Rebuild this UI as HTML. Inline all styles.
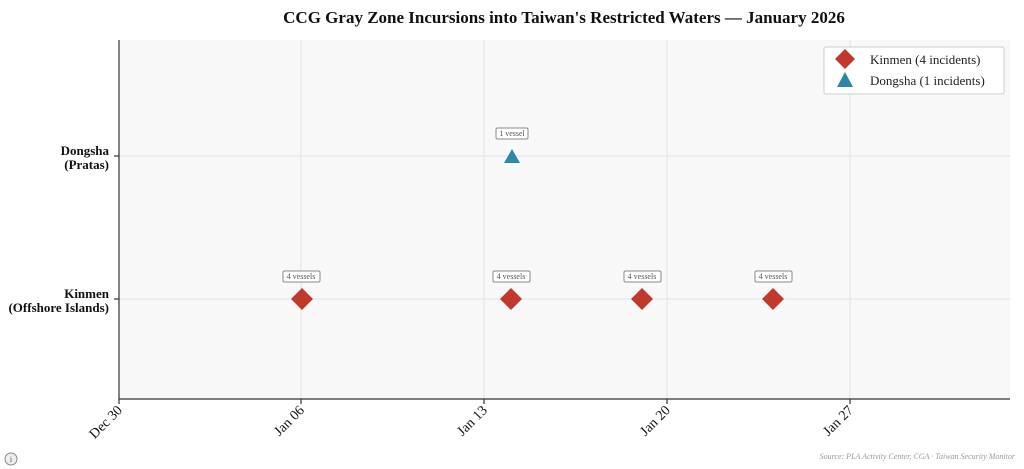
<!DOCTYPE html>
<html><head><meta charset="utf-8"><style>
body{margin:0;background:#fff;}
svg{display:block;font-family:"Liberation Serif",serif;}
</style></head><body>
<svg width="1024" height="469" viewBox="0 0 1024 469">
<rect width="1024" height="469" fill="#fff"/>
<text x="564" y="23" text-anchor="middle" font-size="17" font-weight="bold" fill="#111">CCG Gray Zone Incursions into Taiwan's Restricted Waters — January 2026</text>
<rect x="119" y="40" width="891" height="359" fill="#f8f8f8"/>
<g stroke="#e2e2e2" stroke-width="1">
<line x1="301" y1="40" x2="301" y2="399"/><line x1="484" y1="40" x2="484" y2="399"/>
<line x1="667" y1="40" x2="667" y2="399"/><line x1="850" y1="40" x2="850" y2="399"/>
<line x1="119" y1="156" x2="1010" y2="156"/><line x1="119" y1="299" x2="1010" y2="299"/>
</g>
<g stroke="#333" stroke-width="1.2">
<line x1="119" y1="40" x2="119" y2="399"/><line x1="119" y1="399" x2="1010" y2="399"/>
<line x1="114" y1="156" x2="119" y2="156"/><line x1="114" y1="299" x2="119" y2="299"/>
<line x1="119" y1="399" x2="119" y2="404"/><line x1="301" y1="399" x2="301" y2="404"/>
<line x1="484" y1="399" x2="484" y2="404"/><line x1="667" y1="399" x2="667" y2="404"/>
<line x1="850" y1="399" x2="850" y2="404"/>
</g>
<g font-size="13" font-weight="bold" text-anchor="end" fill="#111">
<text x="109" y="155">Dongsha</text><text x="109" y="169">(Pratas)</text>
<text x="109" y="298">Kinmen</text><text x="109" y="312">(Offshore Islands)</text>
</g>
<g font-size="14" text-anchor="end" fill="#111">
<text transform="translate(123,411) rotate(-45)">Dec 30</text>
<text transform="translate(305,411) rotate(-45)">Jan 06</text>
<text transform="translate(488,411) rotate(-45)">Jan 13</text>
<text transform="translate(671,411) rotate(-45)">Jan 20</text>
<text transform="translate(854,411) rotate(-45)">Jan 27</text>
</g>
<g fill="#c0392b">
<polygon points="302,288 313,299 302,310 291,299"/>
<polygon points="511,288 522,299 511,310 500,299"/>
<polygon points="642,288 653,299 642,310 631,299"/>
<polygon points="773,288 784,299 773,310 762,299"/>
</g>
<polygon points="512,149 520,163 504,163" fill="#2e86ab"/>
<g font-size="8" fill="#555" text-anchor="middle">
<rect x="283" y="271" width="37" height="11" fill="#fff" stroke="#888" rx="1.5"/><text x="301" y="279">4 vessels</text>
<rect x="493" y="271" width="37" height="11" fill="#fff" stroke="#888" rx="1.5"/><text x="511" y="279">4 vessels</text>
<rect x="624" y="271" width="37" height="11" fill="#fff" stroke="#888" rx="1.5"/><text x="642" y="279">4 vessels</text>
<rect x="755" y="271" width="37" height="11" fill="#fff" stroke="#888" rx="1.5"/><text x="773" y="279">4 vessels</text>
<rect x="496" y="128" width="32" height="11" fill="#fff" stroke="#888" rx="1.5"/><text x="512" y="136">1 vessel</text>
</g>
<rect x="824" y="47" width="180" height="47" fill="#fff" stroke="#ccc" rx="2"/>
<polygon points="845,49 855,59 845,69 835,59" fill="#c0392b"/>
<polygon points="845,72 853,87 837,87" fill="#2e86ab"/>
<text x="870" y="64" font-size="13" fill="#222">Kinmen (4 incidents)</text>
<text x="870" y="85" font-size="13" fill="#222">Dongsha (1 incidents)</text>
<text x="1015" y="459" font-size="8" font-style="italic" fill="#999" text-anchor="end">Source: PLA Activity Center, CGA · Taiwan Security Monitor</text>
<circle cx="11" cy="459" r="6" fill="#eee" stroke="#888"/>
<text x="11" y="462" font-size="8" text-anchor="middle" fill="#555">i</text>
</svg>
</body></html>
